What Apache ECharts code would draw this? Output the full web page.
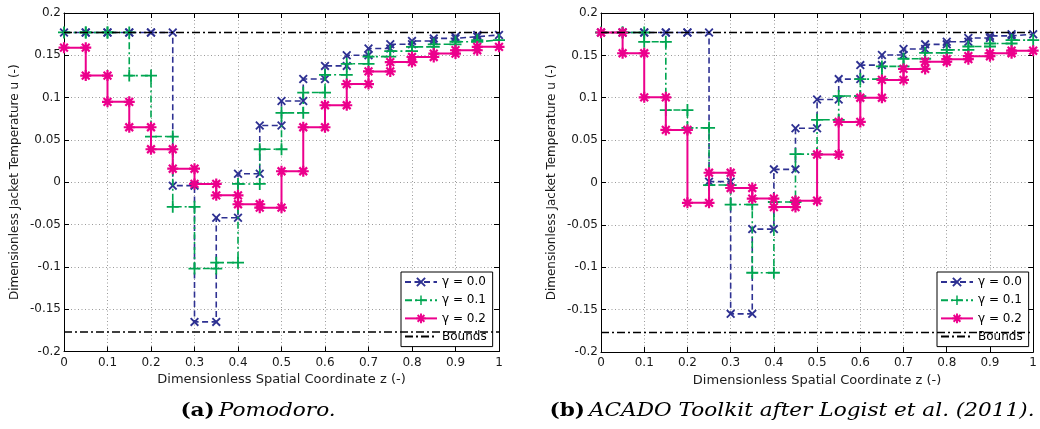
<!DOCTYPE html>
<html><head><meta charset="utf-8">
<script src="https://cdn.jsdelivr.net/npm/echarts@6/dist/echarts.min.js"></script>
<style>html,body{margin:0;padding:0;background:#fff}#c{width:1040px;height:429px}</style>
</head><body><div id="c"></div>
<script>
// ---- data ----
const zEdges = [0,0.05,0.1,0.15,0.2,0.25,0.3,0.35,0.4,0.45,0.5,0.55,0.6,0.65,0.7,0.75,0.8,0.85,0.9,0.95,1];
const seriesNames = ['γ = 0.0','γ = 0.1','γ = 0.2'];
const boundsName = 'Bounds';
const boundValue = 0.177;
// (a) Pomodoro
const pomodoroG00 = [0.177,0.177,0.177,0.177,0.177,-0.004,-0.165,-0.042,0.010,0.067,0.096,0.122,0.1375,0.150,0.158,0.163,0.167,0.170,0.172,0.174];
const pomodoroG01 = [0.177,0.177,0.177,0.126,0.054,-0.029,-0.102,-0.095,-0.002,0.039,0.082,0.106,0.127,0.140,0.1485,0.155,0.160,0.163,0.166,0.168];
const pomodoroG02 = [0.159,0.126,0.095,0.065,0.039,0.016,-0.002,-0.0155,-0.026,-0.030,0.013,0.065,0.091,0.116,0.131,0.142,0.148,0.152,0.156,0.160];
// (b) ACADO
const acadoG00 = [0.177,0.177,0.177,0.177,0.177,0.001,-0.155,-0.055,0.0155,0.064,0.098,0.122,0.1385,0.1505,0.1575,0.163,0.166,0.1705,0.173,0.175];
const acadoG01 = [0.177,0.177,0.166,0.0855,0.0645,-0.003,-0.026,-0.1065,-0.023,0.0335,0.074,0.102,0.122,0.137,0.146,0.153,0.1565,0.1605,0.164,0.168];
const acadoG02 = [0.177,0.1525,0.1005,0.062,-0.024,0.0115,-0.0065,-0.019,-0.029,-0.0215,0.033,0.0715,0.100,0.121,0.134,0.1425,0.1455,0.149,0.1525,0.1555];
const xMin = 0, xMax = 1, xStep = 0.1;
const yMin = -0.2, yMax = 0.2, yStep = 0.05;
const xTitle = 'Dimensionless Spatial Coordinate z (-)';
const yTitle = 'Dimensionless Jacket Temperature u (-)';
const captions = [['(a)','Pomodoro.'],['(b)','ACADO Toolkit after Logist et al. (2011).']];

// ---- helpers ----
function stairs(vals){
  const pts = [];
  vals.forEach((v,i)=>{ pts.push([zEdges[i],v]); pts.push([zEdges[i+1],v]); });
  return pts;
}
function barsPath(angles,L,w){
  let d='';
  angles.forEach(a=>{
    const r=a*Math.PI/180, dx=Math.cos(r), dy=Math.sin(r), nx=-dy, ny=dx;
    const p=[[-L*dx-w*nx,-L*dy-w*ny],[L*dx-w*nx,L*dy-w*ny],[L*dx+w*nx,L*dy+w*ny],[-L*dx+w*nx,-L*dy+w*ny]];
    d+='M'+p.map(q=>q[0].toFixed(3)+','+q[1].toFixed(3)).join('L')+'Z';
  });
  return 'path://'+d;
}
const symCross = barsPath([45,135],10,1.7);
const symPlus = barsPath([0,90],10,1.5);
const symStar = barsPath([0,45,90,135],10,2.0);

const colors = ['#2e3192','#00a651','#ec008c'];
const styles = [
  {symbol:symCross,size:9,type:[6,3.5],width:1.6},
  {symbol:symPlus,size:12,type:[7,3,2,3],width:1.6},
  {symbol:symStar,size:11,type:'solid',width:2}
];
const font = 'DejaVu Sans';

const grids = [
  {left:64, top:13, width:435, height:338.5},
  {left:601, top:13, width:434, height:339}
];

const xAxes=[], yAxes=[], series=[], legends=[], graphics=[];
const axisLine = {show:true, onZero:false, lineStyle:{color:'#000',width:1}};
const tick = {show:true, inside:true, length:5, lineStyle:{color:'#000',width:1}};
const split = {show:true, lineStyle:{color:'#9a9a9a',width:1,type:[1,2.5]}};

[[pomodoroG00,pomodoroG01,pomodoroG02],[acadoG00,acadoG01,acadoG02]].forEach((sets,g)=>{
  xAxes.push({type:'value',gridIndex:g,position:'bottom',min:xMin,max:xMax,interval:xStep,
    axisLine, axisTick:tick, splitLine:split,
    axisLabel:{margin:5,fontFamily:font,fontSize:12,color:'#1a1a1a'},
    name:xTitle,nameLocation:'middle',nameGap:20,
    nameTextStyle:{fontFamily:font,fontSize:13,color:'#1a1a1a'}});
  xAxes.push({type:'value',gridIndex:g,position:'top',min:xMin,max:xMax,interval:xStep,
    axisLine, axisTick:tick, splitLine:{show:false}, axisLabel:{show:false}});
  yAxes.push({type:'value',gridIndex:g,position:'left',min:yMin,max:yMax,interval:yStep,
    axisLine, axisTick:tick, splitLine:split,
    axisLabel:{margin:3,fontFamily:font,fontSize:12,color:'#1a1a1a'},
    name:yTitle,nameLocation:'middle',nameGap:43,
    nameTextStyle:{fontFamily:font,fontSize:12,color:'#1a1a1a'}});
  yAxes.push({type:'value',gridIndex:g,position:'right',min:yMin,max:yMax,interval:yStep,
    axisLine, axisTick:tick, splitLine:{show:false}, axisLabel:{show:false}});
  const xi=g*2, yi=g*2;
  sets.forEach((vals,k)=>{
    const s=styles[k];
    series.push({name:seriesNames[k],type:'line',xAxisIndex:xi,yAxisIndex:yi,data:stairs(vals),
      symbol:s.symbol,symbolSize:s.size,symbolKeepAspect:true,
      lineStyle:{color:colors[k],width:s.width,type:s.type},
      itemStyle:{color:colors[k]},emphasis:{disabled:true},animation:false,z:2+k});
  });
  [boundValue,-boundValue].forEach(b=>{
    series.push({name:boundsName,type:'line',xAxisIndex:xi,yAxisIndex:yi,
      data:[[xMin,b],[xMax,b]],symbol:'none',
      lineStyle:{color:'#000',width:1.5,type:[8,3,2,3]},itemStyle:{color:'#000'},
      emphasis:{disabled:true},animation:false,z:6});
  });
  legends.push({show:true,orient:'vertical',left:g===0?401:937,top:272,
    data:[...seriesNames,{name:boundsName,itemStyle:{opacity:0}}],itemWidth:32,itemHeight:12,itemGap:6.2,
    backgroundColor:'#fff',borderColor:'#000',borderWidth:1,borderRadius:0,
    padding:[4,6,4,3],selectedMode:false,
    textStyle:{fontFamily:font,fontSize:12,color:'#000'}});
});

const capX=[258,792];
captions.forEach((c,i)=>{
  graphics.push({type:'text',x:capX[i],y:411,scaleX:1.2,silent:true,style:{
    text:'{b|'+c[0]+'} {i|'+c[1]+'}',align:'center',verticalAlign:'middle',
    rich:{b:{fontFamily:'DejaVu Serif',fontWeight:'bold',fontSize:18,fill:'#000'},
          i:{fontFamily:'DejaVu Serif',fontStyle:'italic',fontSize:18,fill:'#000'}}}});
});

const chart = echarts.init(document.getElementById('c'),null,{renderer:'canvas'});
chart.setOption({animation:false,backgroundColor:'#fff',grid:grids,xAxis:xAxes,yAxis:yAxes,
  series,legend:legends,graphic:graphics});
</script></body></html>
